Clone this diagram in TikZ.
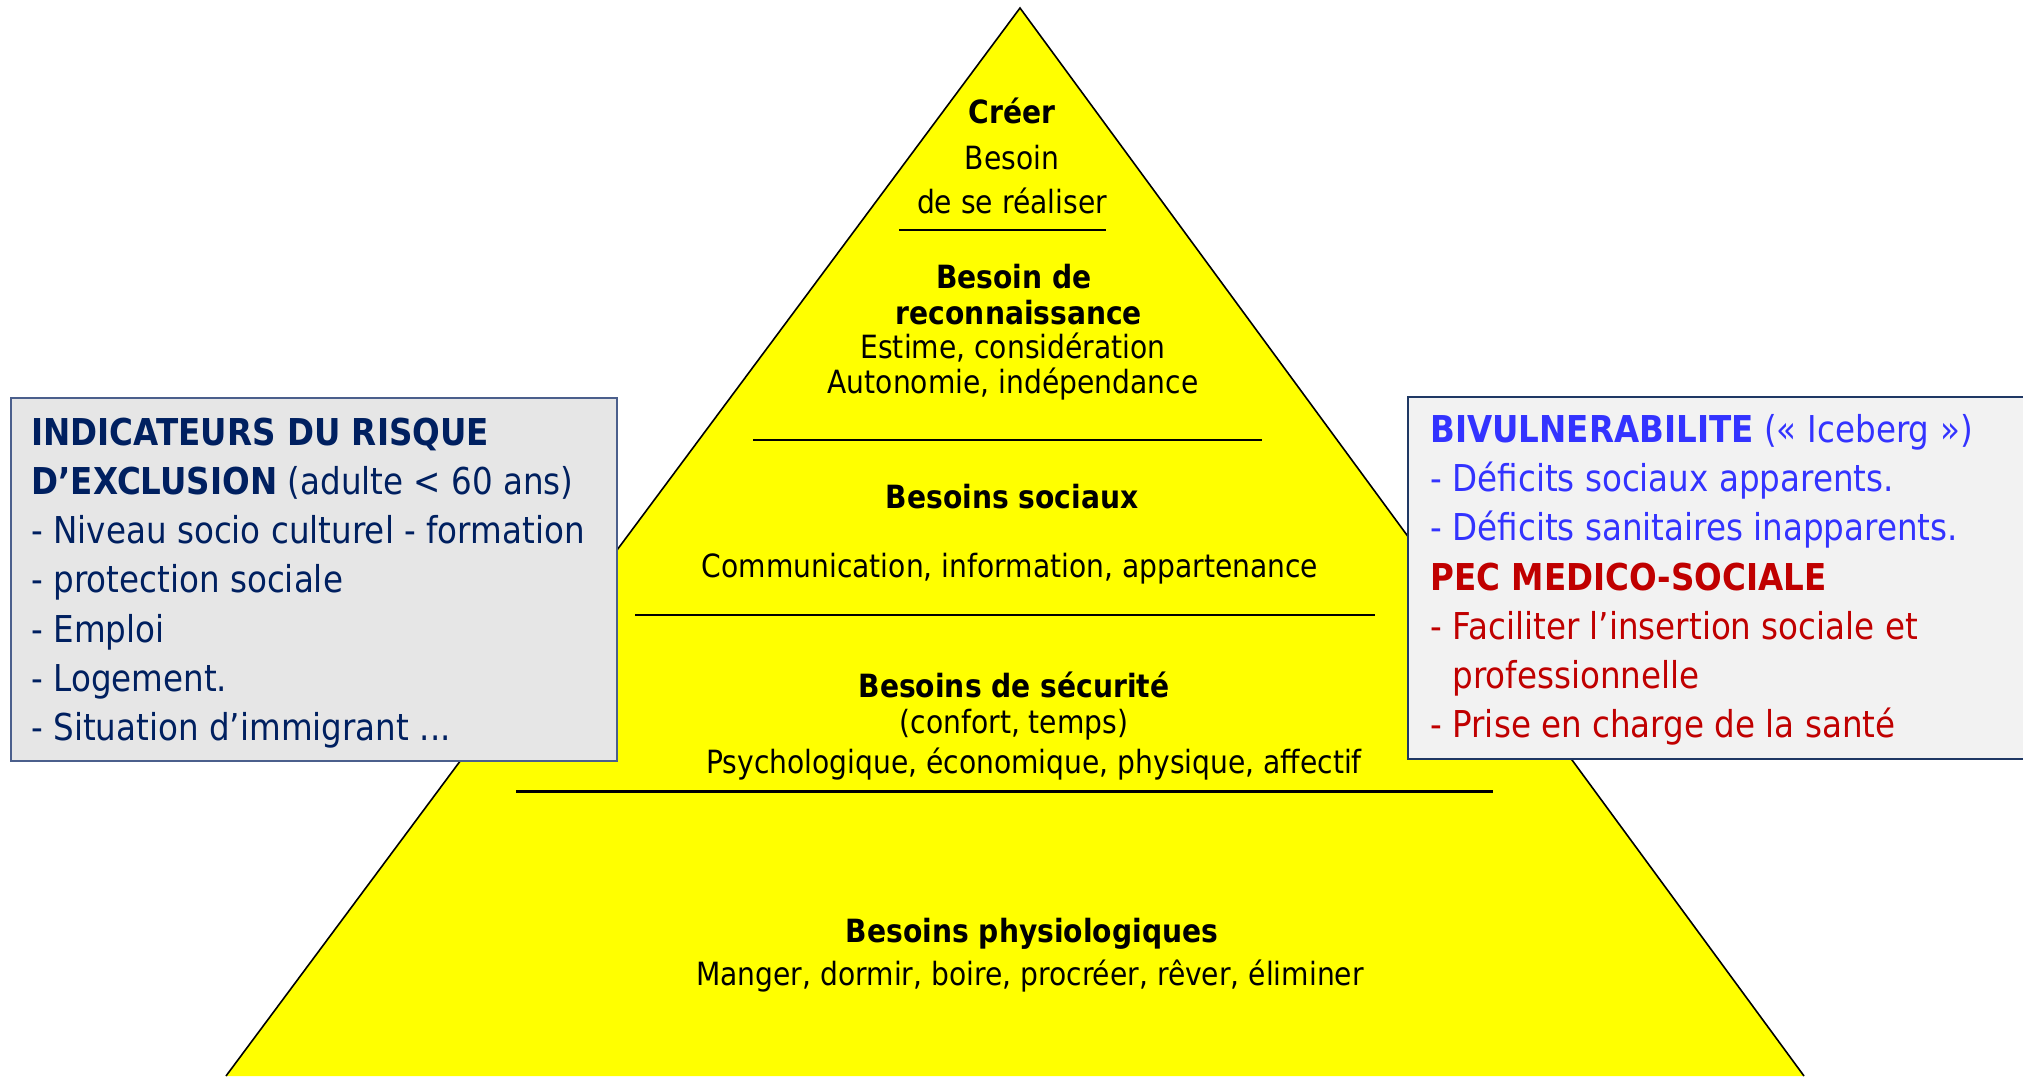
\documentclass[tikz,border=0pt]{standalone}
\usepackage{fontspec}
\setmainfont{DejaVu Sans}[FakeStretch=0.88]

\definecolor{pyryellow}{RGB}{255,255,0}
\definecolor{navytext}{RGB}{0,32,96}
\definecolor{leftfill}{RGB}{230,230,230}
\definecolor{rightfill}{RGB}{242,242,242}
\definecolor{leftedge}{RGB}{75,95,140}
\definecolor{rightedge}{RGB}{31,56,100}
\definecolor{bluetext}{RGB}{51,51,255}
\definecolor{redtext}{RGB}{192,0,0}

\tikzset{
  level/.style={font=\fontsize{16}{19}\selectfont,anchor=base,inner sep=0pt},
  levelhead/.style={level,font=\fontsize{16}{19}\selectfont\bfseries},
  listline/.style={font=\fontsize{18.5}{22}\selectfont,anchor=base west,inner sep=0pt},
  sep/.style={line width=1pt}
}

\begin{document}
\begin{tikzpicture}[x=0.5pt,y=-0.5pt]
\clip (0,0) rectangle (2023,1076);
\fill[white] (0,0) rectangle (2023,1076);

% pyramid
\filldraw[fill=pyryellow,draw=black,line width=0.8pt] (226,1076) -- (1020,8) -- (1804,1076);

\draw[sep] (899,230) -- (1106,230);
\draw[sep] (753,440) -- (1262,440);
\draw[sep] (635,615) -- (1375,615);
\draw[line width=1.5pt] (516,791) -- (1493,791);

\node[levelhead] (creer) at (1012,123) {Créer};
\node[level] (creer2) at (1012,169) {Besoin};
\node[level] (creer3) at (1012,213) {de se réaliser};

\node[levelhead] (reco) at (1014,288) {Besoin de};
\node[levelhead] (reco2) at (1019,324) {reconnaissance};
\node[level] (reco3) at (1013,358) {Estime, considération};
\node[level] (reco4) at (1013,393) {Autonomie, indépendance};

\node[levelhead] (soc) at (1012,508) {Besoins sociaux};
\node[level] (soc2) at (1010,577) {Communication, information, appartenance};

\node[levelhead] (secu) at (1014,697) {Besoins de sécurité};
\node[level] (secu2) at (1014,733) {(confort, temps)};
\node[level] (secu3) at (1034,773) {Psychologique, économique, physique, affectif};

\node[levelhead] (physio) at (1032,942) {Besoins physiologiques};
\node[level] (physio2) at (1030,985) {Manger, dormir, boire, procréer, rêver, éliminer};

% left box
\filldraw[fill=leftfill,draw=leftedge,line width=1pt] (11,398) rectangle (617,761);
\begin{scope}[navytext]
\node[listline] (ind1) at (31,445) {\bfseries INDICATEURS DU RISQUE};
\node[listline] (ind2) at (31,494) {\textbf{D’EXCLUSION} (adulte < 60 ans)};
\node[listline] (ind3) at (31,543) {- Niveau socio culturel - formation};
\node[listline] (ind4) at (31,592) {- protection sociale};
\node[listline] (ind5) at (31,642) {- Emploi};
\node[listline] (ind6) at (31,691) {- Logement.};
\node[listline] (ind7) at (31,740) {- Situation d’immigrant ...};
\end{scope}

% right box
\filldraw[fill=rightfill,draw=rightedge,line width=1pt] (1408,397) rectangle (2040,759);
\begin{scope}[bluetext]
\node[listline] (biv1) at (1430,442) {\textbf{BIVULNERABILITE} («\hspace{0.3em}Iceberg\hspace{0.3em}»)};
\node[listline] (biv2) at (1430,491) {- Déficits sociaux apparents.};
\node[listline] (biv3) at (1430,540) {- Déficits sanitaires inapparents.};
\end{scope}
\begin{scope}[redtext]
\node[listline] (pec1) at (1430,590) {\bfseries PEC MEDICO-SOCIALE};
\node[listline] (pec2) at (1430,639) {- Faciliter l’insertion sociale et};
\node[listline] (pec3) at (1452,688) {professionnelle};
\node[listline] (pec4) at (1430,737) {- Prise en charge de la santé};
\end{scope}
\end{tikzpicture}
\end{document}
